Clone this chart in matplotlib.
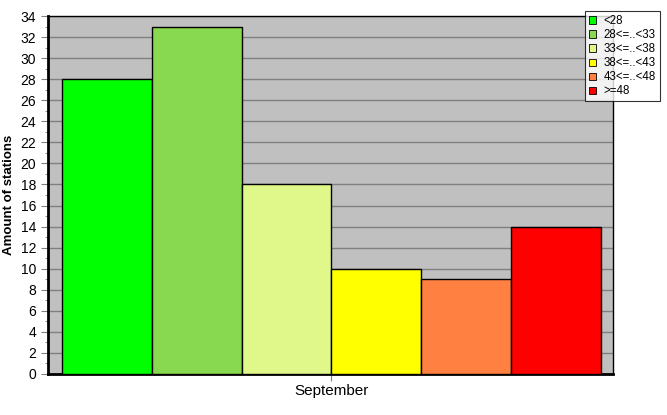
import numpy as np
import matplotlib
matplotlib.use("Agg")
from matplotlib import pyplot as plt
from matplotlib.patches import Patch

plt.rcParams['font.family'] = ['Liberation Sans', 'DejaVu Sans']

categories = ["<28", "28<=..<33", "33<=..<38", "38<=..<43", "43<=..<48", ">=48"]
counts = [28, 33, 18, 10, 9, 14]
colors = ["#00FF00", "#88D850", "#E0F88A", "#FFFF00", "#FF8040", "#FF0000"]
month = "September"

fig = plt.figure(figsize=(6.67, 4.15), dpi=100)
ax = fig.add_axes([0.072, 0.0988, 0.847, 0.8626])
ax.set_facecolor("#C0C0C0")

x = np.arange(len(categories))
ax.bar(x, counts, width=1.0, align="edge", color=colors, edgecolor="black", linewidth=1, zorder=3)

ax.set_xlim(-14 / 90, len(categories) + 12 / 90)
ax.set_ylim(0, 34)
ax.set_yticks(np.arange(0, 35, 2))
ax.set_yticks(np.arange(0, 34, 1), minor=True)
ax.set_xticks([len(categories) / 2])
ax.set_xticklabels([month])
ax.grid(axis="y", which="major", color="#808080", linewidth=1, zorder=0)
ax.tick_params(axis="both", which="major", labelsize=10, length=5, color="#808080", direction="out")
ax.tick_params(axis="x", which="major", labelsize=11, pad=2)
ax.tick_params(axis="y", which="minor", length=2, color="#808080")
ax.set_ylabel("Amount of stations", fontsize=9.5, fontweight="bold", labelpad=4)

for side in ["left", "bottom"]:
    ax.spines[side].set_linewidth(2)
for side in ["top", "right"]:
    ax.spines[side].set_linewidth(1)

handles = [Patch(facecolor=c, edgecolor="black", linewidth=0.6) for c in colors]
leg = fig.legend(handles, categories, loc="upper right", bbox_to_anchor=(0.9895, 0.9735),
                 fontsize=8.3, frameon=True, fancybox=False, edgecolor="black",
                 handlelength=0.6, handleheight=0.6, handletextpad=0.7,
                 labelspacing=0.18, borderpad=0.35, borderaxespad=0)
leg.get_frame().set_linewidth(0.8)

fig.savefig("out.png", dpi=100)
